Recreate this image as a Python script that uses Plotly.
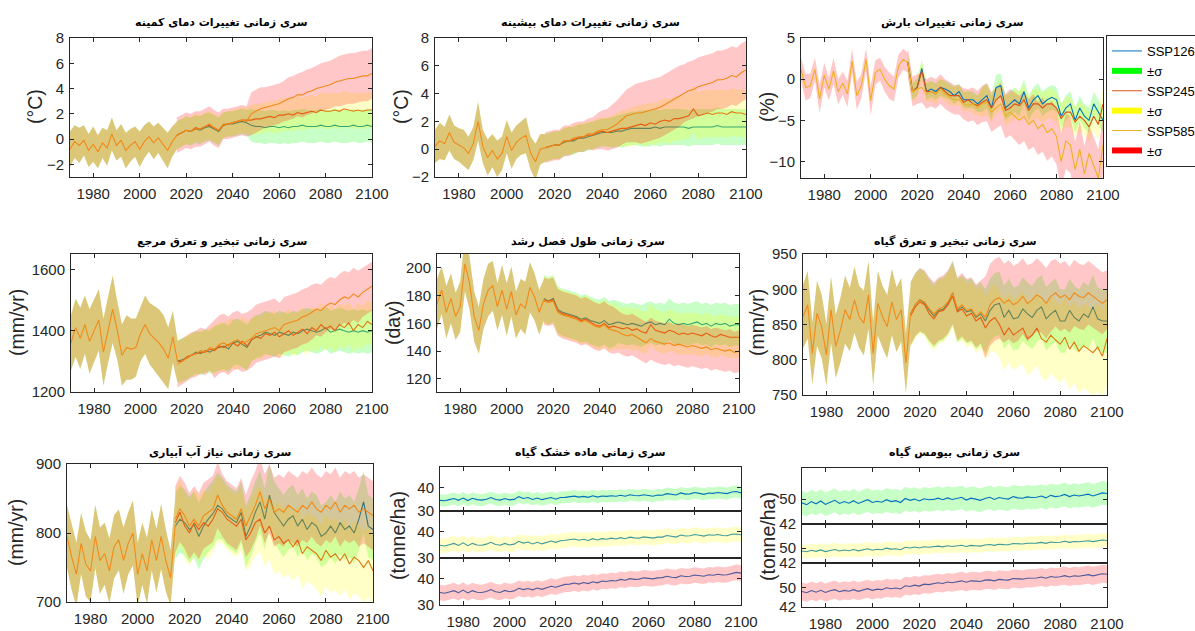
import numpy as np
import plotly.graph_objects as go

# ---------------- years / ticks ----------------
HIST_YEARS = list(range(1970, 2017, 2))   # 24 points
FUT_YEARS = list(range(2016, 2101, 2))    # 43 points
ALL_YEARS = list(range(1970, 2101, 2))    # 66 points
X_TICKS = [1980, 2000, 2020, 2040, 2060, 2080, 2100]
SCENARIOS = ["SSP126", "SSP245", "SSP585"]

# ---------------- Tmin change (°C) ----------------
TMIN_HIST = [-0.8,-0.2,-0.5,-0.1,-0.9,-0.4,-1.0,-0.3,-0.7,0.4,-0.5,-0.1,-0.9,-0.5,-0.2,-0.8,-0.2,0.2,-0.3,0.1,-0.4,-0.9,-0.2,0.3]
TMIN_HIST_SD = [1.4,1.3,1.4,1.2,1.3,1.4,1.3,1.2,1.4,1.3,1.2,1.3,1.4,1.3,1.2,1.4,1.3,1.2,1.3,1.2,1.3,1.4,1.2,1.1]
TMIN_126 = [0.3,0.5,0.7,0.6,0.8,0.7,0.9,1.0,0.8,0.6,
            1.1,1.2,1.2,1.3,1.4,1.3,1.1,1.0,1.0,0.9,
            1.0,1.0,0.9,1.0,0.9,1.0,1.0,1.1,1.0,1.0,
            1.0,1.1,1.0,1.0,1.1,1.0,1.0,1.0,1.1,1.0,
            1.0,1.1,1.0]
TMIN_126_SD = [1.1,1.1,1.1,1.1,1.1,1.1,1.1,1.1,1.1,1.1,
               1.0,1.0,1.0,1.0,1.0,1.0,1.3,1.3,1.3,1.3,
               1.3,1.3,1.3,1.3,1.3,1.3,1.3,1.3,1.3,1.3,
               1.3,1.3,1.3,1.3,1.3,1.3,1.3,1.3,1.3,1.3,
               1.3,1.3,1.3]
TMIN_245 = [0.3,0.5,0.7,0.6,0.9,0.8,1.0,1.1,0.9,0.7,
            1.1,1.2,1.3,1.4,1.5,1.5,1.5,1.6,1.6,1.7,
            1.8,1.7,1.9,1.9,2.0,1.9,2.1,2.0,2.1,2.2,
            2.1,2.3,2.2,2.2,2.3,2.2,2.4,2.3,2.2,2.3,
            2.2,2.3,2.3]
TMIN_245_SD = [1.1,1.1,1.1,1.1,1.1,1.1,1.1,1.1,1.1,1.1,
               1.0,1.0,1.0,1.0,1.0,1.0,1.2,1.2,1.2,1.2,
               1.2,1.3,1.3,1.3,1.3,1.3,1.3,1.3,1.3,1.3,
               1.3,1.4,1.4,1.4,1.4,1.4,1.4,1.4,1.4,1.4,
               1.4,1.4,1.4]
TMIN_585 = [0.3,0.5,0.7,0.6,0.8,0.8,1.0,1.2,0.9,0.7,
            1.2,1.2,1.3,1.4,1.5,1.4,2.0,2.2,2.4,2.5,
            2.6,2.7,2.8,3.0,3.2,3.3,3.5,3.5,3.7,3.8,
            4.0,4.1,4.2,4.3,4.5,4.6,4.7,4.8,4.8,4.9,
            5.0,5.0,5.2]
TMIN_585_SD = [1.4,1.4,1.4,1.4,1.4,1.4,1.4,1.4,1.4,1.4,
               1.2,1.2,1.2,1.2,1.2,1.2,1.7,1.7,1.7,1.6,
               1.6,1.6,1.6,1.6,1.7,1.7,1.7,1.8,1.8,1.8,
               1.8,1.9,1.9,1.9,1.9,2.0,2.0,2.0,2.0,2.0,
               2.0,2.0,2.0]

# ---------------- Tmax change (°C) ----------------
TMAX_HIST = [0.2,0.6,0.4,1.2,0.5,0.3,0.1,-0.3,0.4,2.0,0.2,-0.6,-0.1,-0.7,-0.3,0.9,-0.1,0.5,0.8,1.0,-0.3,-0.9,0.0,0.1]
TMAX_HIST_SD = [1.2,1.3,1.2,1.3,1.2,1.2,1.3,1.2,1.2,1.4,1.2,1.3,1.2,1.3,1.2,1.2,1.3,1.2,1.2,1.3,1.2,1.3,1.1,1.0]
TMAX_126 = [0.1,0.2,0.3,0.3,0.5,0.6,0.6,0.8,0.8,0.9,
            1.0,1.1,1.2,1.2,1.2,1.3,1.3,1.4,1.5,1.5,
            1.5,1.5,1.5,1.6,1.5,1.6,1.6,1.6,1.6,1.6,
            1.5,1.6,1.6,1.6,1.6,1.6,1.7,1.6,1.6,1.6,
            1.6,1.6,1.6]
TMAX_126_SD = [1.0,1.0,1.0,1.0,1.0,1.0,1.0,1.0,1.0,1.0,
               1.0,1.0,1.0,1.0,1.1,1.1,1.2,1.2,1.2,1.2,
               1.3,1.3,1.3,1.3,1.3,1.3,1.3,1.3,1.3,1.3,
               1.3,1.3,1.3,1.3,1.3,1.3,1.3,1.3,1.3,1.3,
               1.3,1.3,1.3]
TMAX_245 = [0.1,0.2,0.3,0.3,0.6,0.6,0.7,0.8,0.9,1.0,
            1.0,1.2,1.3,1.2,1.3,1.4,1.5,1.5,1.6,1.7,
            1.8,1.7,1.9,1.8,2.0,2.1,2.0,2.2,2.2,2.3,
            2.4,2.9,2.4,2.5,2.6,2.5,2.6,2.6,2.5,2.7,
            2.6,2.6,2.5]
TMAX_245_SD = [1.0,1.0,1.0,1.0,1.0,1.0,1.0,1.0,1.0,1.0,
               1.0,1.0,1.0,1.1,1.1,1.2,1.3,1.3,1.4,1.4,
               1.4,1.5,1.5,1.5,1.5,1.6,1.6,1.6,1.6,1.6,
               1.6,1.7,1.7,1.7,1.7,1.7,1.7,1.7,1.7,1.7,
               1.7,1.7,1.7]
TMAX_585 = [0.1,0.2,0.3,0.3,0.6,0.6,0.8,0.9,0.9,1.1,
            1.1,1.3,1.4,1.4,1.6,1.8,2.1,2.4,2.5,2.6,
            2.6,2.7,2.8,2.9,3.0,3.2,3.4,3.6,3.8,4.0,
            4.2,4.3,4.5,4.6,4.7,4.8,5.0,5.0,5.1,5.3,
            5.2,5.5,5.7]
TMAX_585_SD = [1.1,1.1,1.1,1.1,1.1,1.1,1.1,1.1,1.1,1.1,
               1.2,1.3,1.4,1.5,1.6,1.7,1.8,1.9,2.0,2.1,
               2.2,2.2,2.2,2.2,2.2,2.2,2.2,2.2,2.2,2.1,
               2.1,2.1,2.1,2.1,2.1,2.1,2.1,2.1,2.1,2.1,
               2.1,2.1,2.1]

# ---------------- Precipitation change (%) ----------------
PR_HIST = [1.2,-1.0,-0.8,1.2,-2.4,0.5,-1.2,1.0,-1.5,-0.5,-1.8,2.2,-2.0,-0.8,2.4,-2.6,0.8,1.2,0.0,-0.8,-1.2,1.6,2.4,2.0]
PR_HIST_SD = [1.4,1.6,1.5,1.4,1.7,1.5,1.4,1.6,1.5,1.4,1.6,1.5,1.7,1.5,1.4,1.8,1.5,1.4,1.5,1.6,1.5,1.4,1.3,1.2]
PR_126 = [2.0,-1.5,-1.0,1.3,-1.5,-1.2,-1.5,-1.0,-1.2,-1.5,
          -2.0,-1.5,-2.5,-2.5,-2.5,-3.0,-2.5,-2.0,-3.5,-1.0,
          -0.8,-3.5,-3.0,-2.5,-3.0,-1.5,-3.5,-2.5,-2.0,-3.0,
          -2.5,-2.2,-2.5,-4.5,-3.5,-3.0,-5.0,-3.5,-4.5,-5.0,
          -3.0,-4.0,-5.0]
PR_126_SD = [1.0,1.0,1.0,1.0,1.0,1.0,1.0,1.0,1.0,1.0,
             1.0,1.0,1.0,1.0,1.0,1.0,1.5,1.5,1.5,1.5,
             1.5,1.5,1.5,1.5,1.5,1.5,1.5,1.5,1.5,1.5,
             1.5,1.5,1.5,1.5,1.5,1.5,1.5,1.5,1.5,1.5,
             1.5,1.5,1.5]
PR_245 = [2.0,-1.5,-1.0,1.0,-1.5,-1.5,-1.8,-1.0,-1.5,-2.0,
          -2.0,-2.0,-2.8,-2.5,-3.0,-3.2,-2.8,-2.5,-3.5,-2.5,
          -2.0,-3.8,-3.5,-3.0,-3.2,-2.5,-3.8,-3.0,-3.0,-3.5,
          -3.0,-3.0,-3.5,-4.8,-4.0,-4.0,-5.2,-4.5,-5.0,-5.8,
          -4.5,-5.5,-3.0]
PR_245_SD = [1.2,1.2,1.2,1.2,1.2,1.2,1.2,1.2,1.2,1.2,
             1.2,1.2,1.2,1.2,1.2,1.2,1.8,1.8,1.8,1.8,
             1.8,1.8,1.8,1.8,1.8,1.8,1.8,1.8,1.8,1.8,
             1.8,1.8,1.8,1.8,1.8,1.8,1.8,1.8,1.8,1.8,
             1.8,1.8,1.8]
PR_585 = [2.0,-1.5,-1.2,-1.0,-1.8,-1.5,-1.8,-1.2,-1.8,-2.2,
          -2.5,-2.5,-3.0,-3.2,-3.0,-3.5,-3.0,-2.8,-4.0,-3.5,
          -3.0,-4.5,-4.0,-4.5,-5.0,-4.5,-5.5,-5.0,-6.0,-5.5,
          -6.5,-6.0,-7.0,-10.0,-7.5,-8.0,-11.0,-8.5,-11.5,-9.0,
          -10.5,-12.0,-8.0]
PR_585_SD = [1.8,1.8,1.8,1.8,1.8,1.8,1.8,1.8,1.8,1.8,
             1.8,1.8,1.9,2.0,2.0,2.1,2.2,2.3,2.4,2.5,
             2.6,2.7,2.8,2.9,3.0,3.0,3.1,3.2,3.2,3.3,
             3.4,3.4,3.4,3.4,3.4,3.4,3.4,3.4,3.4,3.4,
             3.5,3.5,3.5]

# ---------------- Reference ET (mm/yr) ----------------
ETO_HIST = [1360,1410,1375,1420,1365,1400,1435,1330,1400,1470,1400,1320,1345,1340,1345,1390,1420,1390,1375,1360,1340,1310,1380,1300]
ETO_HIST_SD = [90,95,100,95,105,100,100,110,105,110,95,100,105,100,95,90,95,100,105,110,110,100,85,70]
ETO_126 = [1300,1305,1310,1320,1330,1325,1335,1330,1340,1345,
           1350,1340,1360,1365,1355,1345,1370,1380,1385,1395,
           1390,1385,1395,1390,1385,1395,1390,1400,1405,1400,
           1395,1400,1410,1395,1400,1405,1400,1395,1400,1395,
           1400,1395,1400]
ETO_126_SD = [70,70,70,70,70,70,70,70,75,75,
              75,75,75,75,75,75,70,70,70,70,
              70,70,70,70,70,70,70,70,70,70,
              70,70,70,70,70,70,70,70,70,70,
              70,70,70]
ETO_245 = [1300,1300,1315,1320,1325,1330,1330,1340,1335,1350,
           1345,1355,1360,1350,1365,1350,1370,1380,1375,1390,
           1385,1395,1380,1390,1400,1385,1395,1405,1390,1410,
           1400,1420,1405,1415,1400,1420,1410,1425,1400,1420,
           1410,1430,1420]
ETO_245_SD = [70,70,70,70,70,70,70,70,80,80,
              80,80,80,80,80,80,70,70,70,70,
              70,70,70,70,70,70,70,70,70,70,
              70,70,70,70,70,70,70,70,70,70,
              70,70,70]
ETO_585 = [1290,1300,1310,1320,1325,1335,1330,1345,1340,1355,
           1360,1350,1365,1370,1360,1365,1375,1390,1395,1400,
           1405,1410,1400,1420,1425,1430,1435,1445,1450,1460,
           1470,1465,1480,1490,1485,1500,1510,1505,1520,1510,
           1525,1535,1545]
ETO_585_SD = [75,75,75,75,75,75,75,75,95,95,
              95,95,95,95,95,95,95,95,95,95,
              95,95,90,90,90,90,90,90,90,90,
              85,85,85,85,85,85,85,85,85,85,
              80,80,80]

# ---------------- Growing season length (day) ----------------
GS_HIST = [174,184,168,178,165,172,203,189,165,155,174,184,187,172,184,170,183,166,174,171,186,179,168,177]
GS_HIST_SD = [18,17,19,18,17,18,20,19,18,17,18,19,18,17,18,19,18,17,18,19,18,17,16,15]
GS_126 = [178,176,178,170,168,167,166,165,163,164,
          162,161,160,162,159,160,161,160,159,160,
          159,158,160,161,159,160,159,163,160,159,
          160,159,160,161,159,160,158,160,159,160,
          158,159,159]
GS_126_SD = [17,17,17,17,17,17,17,17,17,17,
             17,17,17,17,17,17,15,15,15,15,
             15,15,15,15,15,15,15,15,15,15,
             15,15,15,15,15,15,15,15,15,15,
             15,15,15]
GS_245 = [177,176,177,169,167,166,165,164,162,163,
          161,159,158,160,157,158,157,156,157,155,
          156,154,153,159,155,154,153,155,154,152,
          153,152,153,152,151,153,151,150,152,151,
          150,150,150]
GS_245_SD = [17,17,17,17,17,17,17,17,17,17,
             17,17,17,17,17,17,15,15,15,15,
             15,15,15,15,15,15,15,15,15,15,
             15,15,15,15,15,15,15,15,15,15,
             15,15,15]
GS_585 = [176,175,176,168,166,165,164,163,161,162,
          160,158,157,159,156,155,154,152,151,152,
          150,148,146,149,147,146,145,146,144,145,
          144,143,144,143,142,143,141,142,141,140,
          141,139,140]
GS_585_SD = [17,17,17,17,17,17,17,17,17,17,
             17,17,17,17,17,17,15,15,15,15,
             15,15,15,15,15,15,15,15,15,15,
             15,15,15,15,15,15,15,15,15,15,
             15,15,15]

# ---------------- Crop ET (mm/yr) ----------------
ETA_HIST = [861,878,809,866,847,807,871,819,842,871,857,885,861,852,892,809,880,861,847,882,857,871,795,865]
ETA_HIST_SD = [45,48,44,46,45,44,47,45,46,48,45,47,44,46,48,45,46,44,45,47,46,45,42,40]
ETA_126 = [865,878,885,880,870,862,870,872,880,895,
           870,875,868,870,860,865,855,870,878,880,
           860,870,858,860,872,865,860,870,875,858,
           865,870,855,855,870,860,855,865,860,875,
           858,855,855]
ETA_126_SD = [45,45,45,45,45,45,45,45,45,45,
              45,45,45,45,45,45,45,45,45,45,
              45,45,45,45,45,45,45,45,45,45,
              45,45,45,45,45,45,45,45,45,45,
              45,45,45]
ETA_245 = [862,875,882,878,865,858,868,870,878,890,
           868,872,862,866,855,860,845,855,860,850,
           835,845,835,840,845,830,835,845,830,825,
           835,828,822,832,815,825,812,820,815,810,
           818,805,830]
ETA_245_SD = [45,45,45,45,45,45,45,45,45,45,
              45,45,45,45,45,45,45,45,48,48,
              50,50,50,50,52,52,52,52,55,55,
              55,55,55,58,58,58,60,60,60,62,
              62,65,65]
ETA_585 = [865,878,885,882,872,865,872,875,882,895,
           872,878,870,872,862,868,860,878,885,888,
           880,885,878,882,890,880,885,892,888,880,
           890,895,888,892,885,895,890,888,895,890,
           885,880,885]
ETA_585_SD = [45,45,45,45,45,45,45,45,45,45,
              45,45,45,45,45,45,58,58,58,58,
              56,56,55,55,54,54,52,52,50,50,
              50,48,48,48,47,47,46,46,45,45,
              44,44,42]

# ---------------- Irrigation requirement (mm/yr) ----------------
IR_HIST = [795,765,740,785,755,745,795,760,770,745,780,790,760,785,800,740,770,745,790,760,795,760,735,812]
IR_HIST_SD = [45,48,46,44,47,45,46,48,45,47,46,44,48,45,47,46,45,48,44,46,47,45,40,40]
IR_126 = [810,820,815,805,812,795,810,820,828,840,
          835,825,820,815,830,795,810,830,845,820,
          855,830,820,810,820,825,810,820,805,815,
          810,795,800,810,800,815,805,810,800,820,
          845,810,805]
IR_126_SD = [48,48,48,48,48,48,48,48,48,48,
             45,45,45,45,45,45,45,45,45,45,
             45,45,45,45,45,45,45,45,45,45,
             45,45,45,45,45,45,45,45,45,45,
             45,45,45]
IR_245 = [815,830,810,800,815,805,815,810,820,835,
          830,820,815,810,820,790,800,815,820,800,
          810,790,795,785,790,780,790,770,780,775,
          770,760,775,765,770,760,770,755,765,760,
          750,760,745]
IR_245_SD = [48,48,48,48,48,48,48,48,48,48,
             45,45,45,45,45,45,48,48,48,48,
             48,50,50,50,50,50,50,50,50,50,
             52,52,52,52,52,52,52,52,52,52,
             52,52,52]
IR_585 = [820,835,825,810,820,810,825,830,835,855,
          840,830,825,820,835,810,825,840,860,835,
          850,830,835,830,840,835,830,840,835,845,
          835,830,840,835,845,830,840,835,840,830,
          835,830,825]
IR_585_SD = [48,48,48,48,48,48,48,48,48,48,
             45,45,45,45,45,45,50,50,50,50,
             50,50,50,50,50,50,50,50,50,50,
             50,50,50,50,50,50,50,50,50,50,
             50,50,50]

# ---------------- Crop dry matter (tonne/ha), full 1970-2100 ----------------
DM_126 = [34.6,34.4,34.9,35.4,34.6,35.6,34.5,35.5,34.9,34.7,
          35.1,35.8,35.0,34.7,35.4,34.8,35.0,36.2,35.4,35.8,
          35.0,35.6,34.9,35.3,35.8,35.1,35.8,35.9,36.1,36.4,
          36.0,36.3,35.9,36.6,36.0,36.5,36.3,36.6,36.4,36.8,
          36.4,37.0,36.7,36.6,37.0,36.8,36.4,36.9,36.8,37.5,
          37.2,36.9,37.8,37.3,37.4,38.0,37.6,37.2,37.8,37.6,
          38.0,37.6,37.5,38.2,38.4,37.8]
DM_245 = [34.9,34.6,35.1,35.6,34.8,35.8,34.7,35.6,35.0,34.9,
          35.3,36.0,35.2,34.9,35.6,35.0,35.3,36.4,35.7,36.1,
          35.4,36.0,35.4,35.9,36.5,36.0,36.6,36.8,37.0,37.3,
          36.8,37.2,36.7,37.4,36.9,37.4,37.2,37.6,37.3,37.8,
          37.4,38.0,37.7,37.6,38.1,37.8,37.6,38.0,38.0,38.6,
          38.2,38.0,38.8,38.4,38.5,39.0,38.7,38.4,38.9,38.7,
          39.0,38.6,38.5,39.1,39.2,38.9]
DM_585 = [34.8,34.5,35.0,35.5,34.7,35.7,34.6,35.5,34.9,34.8,
          35.2,35.9,35.1,34.8,35.6,35.1,35.4,36.4,35.9,36.3,
          35.8,36.5,36.0,36.6,37.2,36.8,37.5,37.9,38.0,38.4,
          38.0,38.6,38.2,38.9,38.5,39.2,39.0,39.4,39.2,39.8,
          39.5,40.1,39.8,39.9,40.4,40.2,40.0,40.4,40.5,41.0,
          40.6,40.5,41.2,40.9,41.0,41.5,41.2,41.0,41.6,41.4,
          41.8,41.5,41.6,42.2,42.5,42.2]
DM_SD = [2.6, 2.8, 3.0]

# ---------------- Crop biomass (tonne/ha), full 1970-2100 ----------------
BM_126 = [48.8,48.2,49.2,48.5,49.4,48.3,49.0,49.6,48.6,49.2,
          48.7,49.5,48.6,49.2,49.8,48.9,49.3,49.0,49.8,49.2,
          49.5,48.9,50.2,49.6,50.0,49.4,50.1,49.8,49.9,50.3,
          49.8,50.4,49.9,50.2,50.6,49.7,50.3,50.0,49.6,50.2,
          50.6,49.9,50.5,50.2,50.0,50.8,50.4,50.3,50.7,50.5,
          50.6,51.0,50.4,51.2,50.8,51.0,51.5,50.8,51.3,51.0,
          51.2,51.6,51.0,51.5,52.0,51.8]
BM_245 = [48.4,48.0,48.8,48.2,49.0,48.1,48.7,49.2,48.4,48.9,
          48.5,49.2,48.5,49.0,49.6,48.8,49.3,49.1,49.9,49.4,
          49.6,49.1,50.4,50.0,50.5,50.0,50.7,50.4,50.6,51.0,
          50.6,51.2,50.8,51.1,51.5,50.8,51.4,51.2,51.0,51.6,
          51.9,51.4,52.0,51.8,51.7,52.4,52.1,52.1,52.5,52.4,
          52.6,53.0,52.5,53.2,52.9,53.1,53.6,53.0,53.5,53.3,
          53.5,53.9,53.4,53.8,54.3,54.0]
BM_585 = [48.5,48.0,48.9,48.2,49.0,48.1,48.8,49.3,48.4,49.0,
          48.6,49.3,48.6,49.1,49.7,49.0,49.5,49.3,50.1,49.7,
          50.0,49.6,50.9,50.6,51.2,50.8,51.6,51.4,51.7,52.2,
          51.9,52.5,52.2,52.6,53.0,52.4,53.0,52.9,52.7,53.3,
          53.4,53.0,53.6,53.4,53.3,54.0,53.7,53.7,54.1,54.0,
          54.2,54.6,54.1,54.8,54.5,54.7,55.2,54.6,55.1,54.9,
          55.1,55.6,55.1,55.5,56.0,55.8]
BM_SD = [3.8, 3.6, 3.8]

# ---------------- styling ----------------
W, H = 1195, 631
TXT = "#262626"
FONT = "Liberation Sans, Arial, sans-serif"
AR_FONT = "DejaVu Sans, sans-serif"
LINE_COLORS = ["#0072BD", "#D95319", "#EDB120"]
BAND_COLORS = ["rgba(0,255,0,0.22)", "rgba(255,255,0,0.22)", "rgba(255,0,0,0.22)"]
LEGEND_PATCH = ["rgb(0,255,0)", "rgb(255,255,0)", "rgb(255,0,0)"]
SUB_LINE_COLORS = ["#0072BD", "#3E9A9A", "#4B5A9B"]

fig = go.Figure()
axis_count = [0]


def px_x(l, r):
    return [l / W, r / W]


def px_y(t, b):
    return [1 - b / H, 1 - t / H]


def new_axes(xpx, ypx, yrange, yticks, xlabels=True):
    axis_count[0] += 1
    n = axis_count[0]
    sfx = "" if n == 1 else str(n)
    common = dict(showline=True, linecolor=TXT, linewidth=1, mirror="ticks",
                  ticks="inside", ticklen=4, tickwidth=1, tickcolor=TXT,
                  showgrid=False, zeroline=False,
                  tickfont=dict(family=FONT, size=15, color=TXT))
    fig.update_layout(**{
        "xaxis" + sfx: dict(domain=px_x(*xpx), anchor="y" + sfx, range=[1970, 2100],
                            tickvals=X_TICKS, showticklabels=xlabels,
                            ticklabelstandoff=3, **common),
        "yaxis" + sfx: dict(domain=px_y(*ypx), anchor="x" + sfx, range=yrange,
                            tickvals=yticks, ticklabelstandoff=2, **common),
    })
    return "x" + sfx, "y" + sfx


def add_band(xs, mean, sd, color, xr, yr):
    m = np.asarray(mean, float)
    s = np.asarray(sd, float)
    up = m + s
    lo = m - s
    fig.add_trace(go.Scatter(x=list(xs) + list(xs)[::-1],
                             y=np.concatenate([up, lo[::-1]]),
                             fill="toself", fillcolor=color, mode="lines",
                             line=dict(width=0, color="rgba(0,0,0,0)"),
                             hoverinfo="skip", showlegend=False, xaxis=xr, yaxis=yr))


def add_line(xs, ys, color, xr, yr, width=1.1):
    fig.add_trace(go.Scatter(x=xs, y=ys, mode="lines", line=dict(color=color, width=width),
                             hoverinfo="skip", showlegend=False, xaxis=xr, yaxis=yr))


annotations = []


def add_title(text, cx, cy):
    annotations.append(dict(text="<b>" + text + "</b>", x=cx / W, y=1 - cy / H, xref="paper", yref="paper",
                            xanchor="center", yanchor="middle", showarrow=False,
                            font=dict(family=AR_FONT, size=11, color="#000000")))


def add_ytitle(text, cx, cy):
    annotations.append(dict(text=text, x=cx / W, y=1 - cy / H, xref="paper", yref="paper",
                            xanchor="center", yanchor="middle", showarrow=False, textangle=-90,
                            font=dict(family=FONT, size=19.5, color=TXT)))


MAIN = [
    dict(title="سری زمانی تغییرات دمای کمینه", yt="(°C)", xpx=(70, 372), ypx=(38, 177),
         yr=[-3, 8], ticks=[-2, 0, 2, 4, 6, 8], hist=(TMIN_HIST, TMIN_HIST_SD),
         fut=[(TMIN_126, TMIN_126_SD), (TMIN_245, TMIN_245_SD), (TMIN_585, TMIN_585_SD)],
         ypos=(35, 107), hb=[0, 1, 2], top=False),
    dict(title="سری زمانی تغییرات دمای بیشینه", yt="(°C)", xpx=(435, 746), ypx=(38, 177),
         yr=[-2, 8], ticks=[-2, 0, 2, 4, 6, 8], hist=(TMAX_HIST, TMAX_HIST_SD),
         fut=[(TMAX_126, TMAX_126_SD), (TMAX_245, TMAX_245_SD), (TMAX_585, TMAX_585_SD)],
         ypos=(401, 107), hb=[0, 1, 2], top=False),
    dict(title="سری زمانی تغییرات بارش", yt="(%)", xpx=(801, 1103), ypx=(38, 178),
         yr=[-12, 5], ticks=[-10, -5, 0, 5], hist=(PR_HIST, PR_HIST_SD),
         fut=[(PR_126, PR_126_SD), (PR_245, PR_245_SD), (PR_585, PR_585_SD)],
         ypos=(767, 107), hb=[2], top=True),
    dict(title="سری زمانی تبخیر و تعرق مرجع", yt="(mm/yr)", xpx=(71, 372), ypx=(254, 392),
         yr=[1200, 1650], ticks=[1200, 1400, 1600], hist=(ETO_HIST, ETO_HIST_SD),
         fut=[(ETO_126, ETO_126_SD), (ETO_245, ETO_245_SD), (ETO_585, ETO_585_SD)],
         ypos=(17, 323), hb=[0, 1, 2], top=False),
    dict(title="سری زمانی طول فصل رشد", yt="(day)", xpx=(437, 739), ypx=(254, 392),
         yr=[110.5, 210], ticks=[120, 140, 160, 180, 200], hist=(GS_HIST, GS_HIST_SD),
         fut=[(GS_126, GS_126_SD), (GS_245, GS_245_SD), (GS_585, GS_585_SD)],
         ypos=(393, 323), hb=[0, 1, 2], top=False),
    dict(title="سری زمانی تبخیر و تعرق گیاه", yt="(mm/yr)", xpx=(803, 1107), ypx=(254, 395),
         yr=[750, 950], ticks=[750, 800, 850, 900, 950], hist=(ETA_HIST, ETA_HIST_SD),
         fut=[(ETA_126, ETA_126_SD), (ETA_245, ETA_245_SD), (ETA_585, ETA_585_SD)],
         ypos=(757, 323), hb=[0, 1, 2], top=False),
    dict(title="سری زمانی نیاز آب آبیاری", yt="(mm/yr)", xpx=(67, 373), ypx=(464, 602),
         yr=[700, 900], ticks=[700, 800, 900], hist=(IR_HIST, IR_HIST_SD),
         fut=[(IR_126, IR_126_SD), (IR_245, IR_245_SD), (IR_585, IR_585_SD)],
         ypos=(16, 533), hb=[0, 1, 2], top=False),
]

TITLE_Y = {38: 22, 254: 241, 464: 452}

first_axes = None
for p in MAIN:
    xr, yr = new_axes(p["xpx"], p["ypx"], p["yr"], p["ticks"])
    if first_axes is None:
        first_axes = (xr, yr)
    hm, hs = p["hist"]
    if p["top"]:
        for i in range(3):
            fm, fs = p["fut"][i]
            if i in p["hb"]:
                add_band(HIST_YEARS, hm, hs, BAND_COLORS[i], xr, yr)
            add_band(FUT_YEARS, fm, fs, BAND_COLORS[i], xr, yr)
        add_line(HIST_YEARS, hm, LINE_COLORS[2], xr, yr)
        for i in range(3):
            fm, fs = p["fut"][i]
            add_line(FUT_YEARS, fm, LINE_COLORS[i], xr, yr)
    else:
        for i in range(3):
            fm, fs = p["fut"][i]
            if i == 2:
                add_line(HIST_YEARS, hm, LINE_COLORS[i], xr, yr)
            add_line(FUT_YEARS, fm, LINE_COLORS[i], xr, yr)
            if i in p["hb"]:
                add_band(HIST_YEARS, hm, hs, BAND_COLORS[i], xr, yr)
            add_band(FUT_YEARS, fm, fs, BAND_COLORS[i], xr, yr)
    cx = (p["xpx"][0] + p["xpx"][1]) / 2
    add_title(p["title"], cx, TITLE_Y[p["ypx"][0]])
    add_ytitle(p["yt"], *p["ypos"])

SPLIT = [
    dict(title="سری زمانی ماده خشک گیاه", xpx=(440, 741),
         subs=[((467, 511), [30, 49]), ((511, 558), [30, 48]), ((558, 605), [30, 48])],
         ticks=[30, 40], data=[DM_126, DM_245, DM_585], sd=DM_SD, ypos=(398, 536)),
    dict(title="سری زمانی بیومس گیاه", xpx=(802, 1107),
         subs=[((468, 524), [42, 60]), ((524, 563), [42, 62.8]), ((563, 607), [42, 60.5])],
         ticks=[42, 50], data=[BM_126, BM_245, BM_585], sd=BM_SD, ypos=(768, 537)),
]

for p in SPLIT:
    for i in range(3):
        ypx, rng = p["subs"][i]
        xr, yr = new_axes(p["xpx"], ypx, rng, p["ticks"], xlabels=(i == 2))
        add_band(ALL_YEARS, p["data"][i], p["sd"][i], BAND_COLORS[i], xr, yr)
        add_line(ALL_YEARS, p["data"][i], SUB_LINE_COLORS[i], xr, yr)
    cx = (p["xpx"][0] + p["xpx"][1]) / 2
    add_title(p["title"], cx, 452)
    add_ytitle("(tonne/ha)", *p["ypos"])

# legend entries
for i, name in enumerate(SCENARIOS):
    fig.add_trace(go.Scatter(x=[None], y=[None], mode="lines", name=name,
                             line=dict(color=LINE_COLORS[i], width=1),
                             xaxis=first_axes[0], yaxis=first_axes[1]))
    fig.add_trace(go.Scatter(x=[None], y=[None], mode="none", name="±σ", fill="toself",
                             fillcolor=LEGEND_PATCH[i],
                             xaxis=first_axes[0], yaxis=first_axes[1]))

fig.update_layout(
    width=W, height=H,
    margin=dict(l=0, r=0, t=0, b=0, autoexpand=False),
    paper_bgcolor="white", plot_bgcolor="white",
    annotations=annotations,
    showlegend=True,
    legend=dict(x=1106 / W, y=1 - 35 / H, xanchor="left", yanchor="top",
                bgcolor="white", bordercolor=TXT, borderwidth=1,
                font=dict(family=FONT, size=13, color="#000000"),
                tracegroupgap=0, traceorder="normal", itemwidth=30),
)

fig.write_html("out.html", config={"displayModeBar": False},
               post_script="document.body.style.margin='0px';document.body.style.overflow='hidden';")
